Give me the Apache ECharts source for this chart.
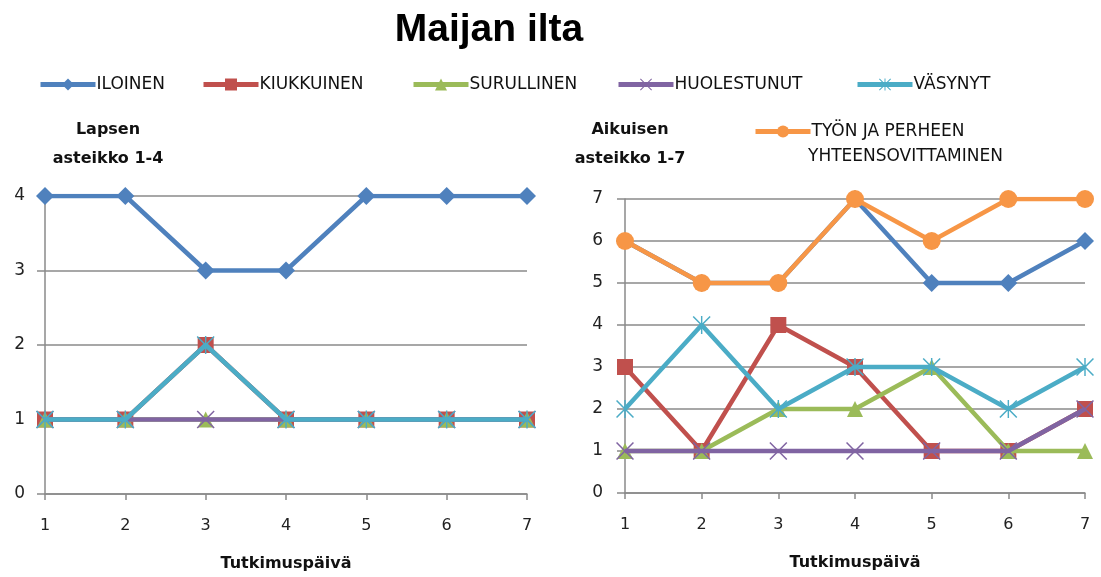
<!DOCTYPE html>
<html><head><meta charset="utf-8">
<script src="https://cdn.jsdelivr.net/npm/echarts@6/dist/echarts.min.js"></script>
<style>html,body{margin:0;padding:0;background:#fff}#c{width:1101px;height:577px}</style>
</head><body><div id="c"></div>
<script>
const days = ['1','2','3','4','5','6','7'];
const seriesNames = ['ILOINEN','KIUKKUINEN','SURULLINEN','HUOLESTUNUT','VÄSYNYT','TYÖN JA PERHEEN YHTEENSOVITTAMINEN'];
const colors = ['#4F81BD','#C0504D','#9BBB59','#8064A2','#4BACC6','#F79646'];
// Child (scale 1-4)
const childIloinen = [4,4,3,3,4,4,4];
const childKiukkuinen = [1,1,2,1,1,1,1];
const childSurullinen = [1,1,1,1,1,1,1];
const childHuolestunut = [1,1,1,1,1,1,1];
const childVasynyt = [1,1,2,1,1,1,1];
// Adult (scale 1-7)
const adultIloinen = [6,5,5,7,5,5,6];
const adultKiukkuinen = [3,1,4,3,1,1,2];
const adultSurullinen = [1,1,2,2,3,1,1];
const adultHuolestunut = [1,1,1,1,1,1,2];
const adultVasynyt = [2,4,2,3,3,2,3];
const adultTyon = [6,5,5,7,6,7,7];

const X = 'path://M0,0.6L0.6,0L5,4.4L9.4,0L10,0.6L5.6,5L10,9.4L9.4,10L5,5.6L0.6,10L0,9.4L4.4,5Z';
const AST = 'path://M0,0.6L0.6,0L5,4.4L9.4,0L10,0.6L5.6,5L10,9.4L9.4,10L5,5.6L0.6,10L0,9.4L4.4,5ZM4.6,0L5.4,0L5.4,10L4.6,10Z';
const symbols = ['diamond','rect','triangle',X,AST,'circle'];
const sizes = [18,16,16,18,18,18];

function mk(i, data, gi){
  return {name: seriesNames[i], type:'line', xAxisIndex:gi, yAxisIndex:gi, data:data,
    symbol: symbols[i], symbolSize: sizes[i], showAllSymbol:true,
    lineStyle:{width:4.5, color:colors[i]}, itemStyle:{color:colors[i]}, z: 2+i, animation:false};
}
const gray = '#8a8a8a';
function xAx(gi){return {type:'category', gridIndex:gi, data:days, boundaryGap:false,
  axisLine:{lineStyle:{color:gray,width:1.5}}, axisTick:{show:true, alignWithLabel:true, length:6, lineStyle:{color:gray,width:1.5}},
  axisLabel:{color:'#222', fontSize:16, margin:24, fontFamily:'DejaVu Sans'},
  name:'Tutkimuspäivä', nameLocation:'middle', nameGap:62,
  nameTextStyle:{fontWeight:'bold', fontSize:16, color:'#111', fontFamily:'DejaVu Sans'}};}
function yAx(gi, max, m){return {type:'value', gridIndex:gi, min:0, max:max, interval:1,
  axisLine:{show:true, lineStyle:{color:gray,width:1.5}}, axisTick:{show:true, length:8, lineStyle:{color:gray,width:1.5}},
  splitLine:{lineStyle:{color:gray,width:1.5}},
  axisLabel:{color:'#222', fontSize:17, margin:m, fontFamily:'DejaVu Sans'}};}

const legendPos = [33, 196, 406, 611, 850];
const legends = legendPos.map((x,i)=>({data:[seriesNames[i]], left:x, top:71, itemWidth:55, itemHeight:15,
  lineStyle:{width:5}, textStyle:{fontSize:17, color:'#111', fontFamily:'DejaVu Sans', padding:[4,0,0,-4]}}));
legends.push({data:[seriesNames[5]], left:748, top:118, itemWidth:55, itemHeight:15, lineStyle:{width:5},
  formatter:()=>'TYÖN JA PERHEEN', textStyle:{fontSize:17, color:'#111', fontFamily:'DejaVu Sans', padding:[4,0,0,-4]}});

const chart = echarts.init(document.getElementById('c'), null, {renderer:'canvas'});
chart.setOption({
  backgroundColor:'#fff',
  color: colors,
  title:[
    {text:'Maijan ilta', left:484, top:6, textAlign:'center', textStyle:{fontSize:39, fontWeight:'bold', color:'#000', fontFamily:'Liberation Sans'}},
    {text:'Lapsen\nasteikko 1-4', left:103, top:110, textAlign:'center', textStyle:{fontSize:16, fontWeight:'bold', lineHeight:29, color:'#111', fontFamily:'DejaVu Sans'}},
    {text:'Aikuisen\nasteikko 1-7', left:625, top:110, textAlign:'center', textStyle:{fontSize:16, fontWeight:'bold', lineHeight:29, color:'#111', fontFamily:'DejaVu Sans'}}
  ],
  graphic:[{type:'text', left:808, top:148, style:{text:'YHTEENSOVITTAMINEN', fontSize:17, fill:'#111', fontFamily:'DejaVu Sans'}}],
  legend: legends,
  grid:[
    {left:45, right:574, top:196, bottom:83},
    {left:625, right:16, top:199, bottom:84}
  ],
  xAxis:[xAx(0), xAx(1)],
  yAxis:[yAx(0,4,20), yAx(1,7,22)],
  series:[
    mk(0, childIloinen, 0), mk(1, childKiukkuinen, 0), mk(2, childSurullinen, 0), mk(3, childHuolestunut, 0), mk(4, childVasynyt, 0),
    mk(0, adultIloinen, 1), mk(1, adultKiukkuinen, 1), mk(2, adultSurullinen, 1), mk(3, adultHuolestunut, 1), mk(4, adultVasynyt, 1), mk(5, adultTyon, 1)
  ]
});
</script></body></html>
